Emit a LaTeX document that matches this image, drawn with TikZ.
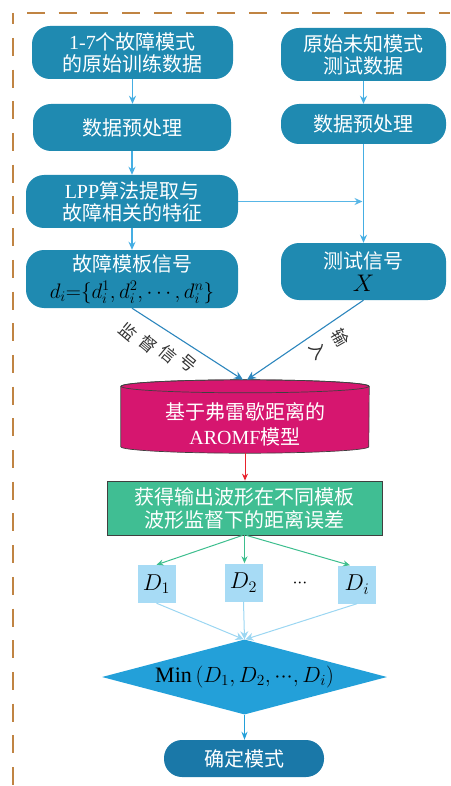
\RequirePackage{fix-cm}
\documentclass[tikz,border=0pt]{standalone}
\usepackage{fontspec}
\setmainfont{Liberation Serif}
\newfontfamily\cjk{Noto Sans CJK SC}
\usetikzlibrary{arrows.meta,shapes.geometric}
\definecolor{boxblue}{HTML}{1F8AB1}
\definecolor{finalblue}{HTML}{1A78A8}
\definecolor{magentac}{HTML}{D6166F}
\definecolor{greenc}{HTML}{40BE93}
\definecolor{lightb}{HTML}{A7DBF5}
\definecolor{diamondc}{HTML}{23A0D9}
\definecolor{arrowlb}{HTML}{45AEE3}
\definecolor{arrowdb}{HTML}{2C86BD}
\definecolor{redc}{HTML}{E8222C}
\definecolor{bordc}{HTML}{C08443}
\definecolor{palearrow}{HTML}{9BD6F2}
\definecolor{greenarrow}{HTML}{3DBE8E}
\newcommand{\tightdots}{{\cdot}{\cdot}{\cdot}}
\tikzset{
  rbox/.style={fill=boxblue, rounded corners=18pt, text=white, align=center, inner sep=0pt,
    font=\cjk\fontsize{20}{22}\selectfont},
  dbox/.style={fill=lightb, minimum width=38pt, minimum height=38pt, inner sep=0pt,
    font=\fontsize{23}{24}\selectfont},
  lbl/.style={text=black!80, font=\cjk\fontsize{17}{18}\selectfont, inner sep=0pt},
  toparrow/.style={draw=arrowlb, line width=1.4pt, -{Stealth[length=8pt,width=7pt]}},
  inarrow/.style={draw=arrowdb, line width=1.1pt, -{Stealth[length=9pt,width=8pt]}},
  redarrow/.style={draw=redc, line width=1pt, -{Stealth[length=7pt,width=6pt]}},
  grarrow/.style={draw=greenarrow, line width=1pt, -{Stealth[length=7pt,width=6pt]}},
  palearrowst/.style={draw=palearrow, line width=1pt, -{Stealth[length=8pt,width=8pt]}},
  finarrow/.style={draw=diamondc, line width=1.2pt, -{Stealth[length=8pt,width=6pt]}},
}
\begin{document}
\begin{tikzpicture}[x=1pt,y=1pt]
\useasboundingbox (0,0) rectangle (450,-786);
% dashed frame
\draw[bordc, line width=1.2pt, dash pattern=on 18pt off 13.7pt, dash phase=6.8pt] (13,-13) -- (13,-786);
\draw[bordc, line width=1.2pt, dash pattern=on 18pt off 13.7pt] (27,-13) -- (450,-13);

% left column
\node[rbox, minimum width=201pt, minimum height=53pt] (A) at (132.5,-52.5) {{\rmfamily 1-7}个故障模式\\的原始训练数据};
\node[rbox, minimum width=198pt, minimum height=47pt] (C) at (132,-127.5) {数据预处理};
\node[rbox, minimum width=212pt, minimum height=53pt] (E) at (132,-201.5) {{\rmfamily LPP}算法提取与\\故障相关的特征};
\node[rbox, minimum width=212pt, minimum height=58pt] (F) at (132,-279) {故障模板信号\\[5pt]{\color{black}\fontsize{21}{22}\selectfont$d_i{=}\{d_i^1, d_i^2, \cdots, d_i^n\}$}};
% right column
\node[rbox, minimum width=165pt, minimum height=53pt] (B) at (363.5,-54.5) {原始未知模式\\测试数据};
\node[rbox, minimum width=165pt, minimum height=40pt] (D) at (363.5,-124) {数据预处理};
\node[rbox, minimum width=165pt, minimum height=57pt] (G) at (363.5,-271.5) {测试信号\\[1pt]{\color{black}\fontsize{24}{24}\selectfont$X$}};

% cylinder
\node[minimum width=248pt, minimum height=73pt, inner sep=0pt] (cyl) at (245,-416.5) {};
\fill[magentac, draw=black!75, line width=0.7pt]
  ([yshift=-6.5pt]cyl.north west) -- ([yshift=6.5pt]cyl.south west)
  arc[start angle=180, end angle=360, x radius=124pt, y radius=6.5pt]
  -- ([yshift=-6.5pt]cyl.north east)
  arc[start angle=0, end angle=180, x radius=124pt, y radius=6.5pt] -- cycle;
\draw[black!75, line width=0.7pt] ([yshift=-6.5pt]cyl.north) ellipse[x radius=124pt, y radius=6.5pt];
\node[text=white, align=center, font=\cjk\fontsize{20}{25}\selectfont, inner sep=0pt] (cyltxt) at (245,-424) {基于弗雷歇距离的\\{\rmfamily AROMF}模型};

% green box
\node[draw=black!75, line width=0.8pt, fill=greenc, text=white, align=center, inner sep=0pt,
  minimum width=275pt, minimum height=54pt, font=\cjk\fontsize{20}{23}\selectfont] (GR) at (244.5,-508) {获得输出波形在不同模板\\波形监督下的距离误差};

% D boxes
\node[dbox] (D1) at (156.5,-584) {$D_1$};
\node[dbox] (D2) at (243.5,-582.5) {$D_2$};
\node[dbox] (Di) at (357,-584.5) {$D_i$};
\node[font=\fontsize{18}{18}\selectfont, inner sep=0pt] (dots) at (300,-583) {$\tightdots$};

% diamond
\node[diamond, fill=diamondc, aspect=3.8, inner sep=0pt, minimum width=285pt, minimum height=75pt,
  font=\fontsize{22}{22}\selectfont] (DM) at (244.5,-677) {{\rmfamily Min}\,$(D_1, D_2, \tightdots, D_i)$};

% final
\node[fill=finalblue, rounded corners=18pt, text=white, inner sep=0pt, minimum width=160pt, minimum height=37pt,
  font=\cjk\fontsize{20}{22}\selectfont] (FIN) at (244,-758.5) {确定模式};

% connectors
\draw[toparrow] (A.south) -- (A.south |- C.north);
\draw[toparrow] (C.south) -- (C.south |- E.north);
\draw[toparrow] (E.south) -- (E.south |- F.north);
\draw[toparrow] (B.south) -- (B.south |- D.north);
\draw[toparrow] (D.south) -- (D.south |- G.north);
\coordinate (J) at (D.south |- E.east);
\draw[toparrow, draw=arrowlb!90, line width=1.1pt] (E.east) -- ([xshift=-1pt]J);
\draw[inarrow] (F.south) -- ([xshift=-2pt]cyl.north);
\draw[inarrow] (G.south) -- ([xshift=2pt]cyl.north);
\draw[redarrow] (cyl.south) -- (cyl.south |- GR.north);
\draw[grarrow] ([xshift=-2pt]GR.south) -- (D1.north);
\draw[grarrow] (GR.south) -- (GR.south |- D2.north);
\draw[grarrow] ([xshift=2pt]GR.south) -- ([xshift=-7pt]Di.north);
\draw[palearrowst] (D1.south) -- ([xshift=-1pt]DM.north);
\draw[palearrowst] (D2.south) -- (DM.north);
\draw[palearrowst] (Di.south) -- ([xshift=1pt]DM.north);
\draw[finarrow] (DM.south) -- (DM.south |- FIN.north);

% labels
\node[lbl, rotate=-40] (l1) at (128,-332) {监};
\node[lbl, rotate=-40] (l2) at (148,-344) {督};
\node[lbl, rotate=-40] (l3) at (168,-354) {信};
\node[lbl, rotate=-40] (l4) at (188,-363) {号};
\node[lbl, rotate=-60] (l5) at (340,-338) {输};
\node[lbl, rotate=-60] (l6) at (318,-351) {入};
\end{tikzpicture}
\end{document}
